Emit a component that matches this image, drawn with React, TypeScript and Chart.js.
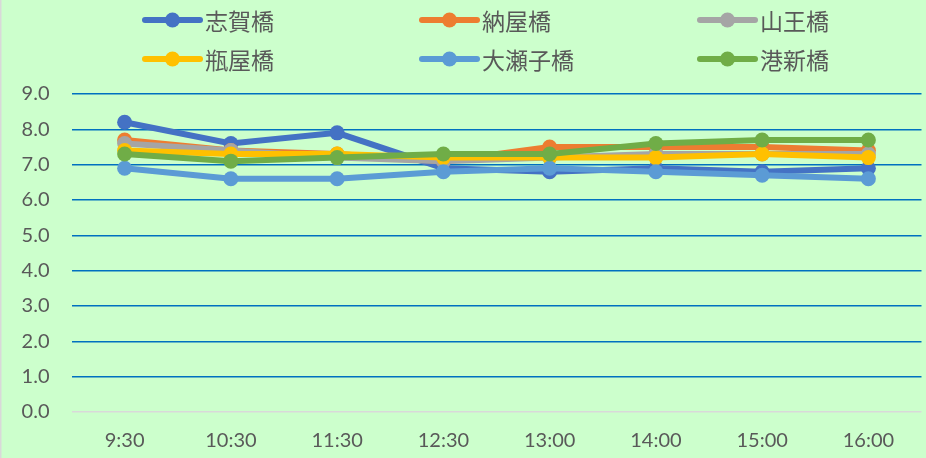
import React, { useEffect, useRef } from "react";
import { Chart, registerables } from "chart.js";

Chart.register(...registerables);

const categories = ["9:30", "10:30", "11:30", "12:30", "13:00", "14:00", "15:00", "16:00"];
const seriesNames = ["志賀橋", "納屋橋", "山王橋", "瓶屋橋", "大瀬子橋", "港新橋"];
const shigaValues = [8.2, 7.6, 7.9, 6.9, 6.8, 6.9, 6.8, 6.9];
const nayaValues = [7.7, 7.4, 7.3, 7.1, 7.5, 7.5, 7.5, 7.4];
const sannoValues = [7.6, 7.4, 7.2, 7.1, 7.2, 7.3, 7.3, 7.3];
const binyaValues = [7.4, 7.3, 7.3, 7.2, 7.2, 7.2, 7.3, 7.2];
const oosekoValues = [6.9, 6.6, 6.6, 6.8, 6.9, 6.8, 6.7, 6.6];
const minatoValues = [7.3, 7.1, 7.2, 7.3, 7.3, 7.6, 7.7, 7.7];
const seriesColors = ["#4472C4", "#ED7D31", "#A5A5A5", "#FFC000", "#5B9BD5", "#70AD47"];
const yTicks = [0, 1, 2, 3, 4, 5, 6, 7, 8, 9];

const allValues = [shigaValues, nayaValues, sannoValues, binyaValues, oosekoValues, minatoValues];

export default function App() {
  const ref = useRef<HTMLCanvasElement | null>(null);

  useEffect(() => {
    if (!ref.current) return;
    const bgPlugin = {
      id: "bg",
      beforeDraw(chart: any) {
        const ctx = chart.ctx;
        ctx.save();
        ctx.fillStyle = "#CCFFCC";
        ctx.fillRect(0, 0, chart.width, chart.height);
        ctx.fillStyle = "#D9D9D9";
        ctx.fillRect(0, 0, 1.5, chart.height);
        ctx.restore();
      },
      afterDraw(chart: any) {
        const ctx = chart.ctx;
        ctx.save();
        const colX = [145, 422, 700];
        const rowY = [20, 59];
        seriesNames.forEach((name, i) => {
          const x = colX[i % 3];
          const y = rowY[Math.floor(i / 3)];
          ctx.strokeStyle = seriesColors[i];
          ctx.lineWidth = 6;
          ctx.lineCap = "round";
          ctx.beginPath();
          ctx.moveTo(x, y);
          ctx.lineTo(x + 55, y);
          ctx.stroke();
          ctx.fillStyle = seriesColors[i];
          ctx.beginPath();
          ctx.arc(x + 27.5, y, 7.5, 0, Math.PI * 2);
          ctx.fill();
          ctx.fillStyle = "#595959";
          ctx.font = '23px "Noto Sans CJK JP"';
          ctx.textBaseline = "middle";
          ctx.textAlign = "left";
          ctx.fillText(name, x + 60, y + 1);
        });
        ctx.restore();
      },
    };

    const chart = new Chart(ref.current, {
      type: "line",
      data: {
        labels: categories,
        datasets: seriesNames.map((name, i) => ({
          label: name,
          data: allValues[i],
          borderColor: seriesColors[i],
          backgroundColor: seriesColors[i],
          borderWidth: 6,
          pointRadius: 7.5,
          pointBorderWidth: 0,
          pointBackgroundColor: seriesColors[i],
          tension: 0,
          order: seriesNames.length - 1 - i,
        })),
      },
      options: {
        animation: false,
        responsive: false,
        maintainAspectRatio: false,
        layout: { padding: { top: 94, left: 0, right: 0, bottom: 0 } },
        plugins: { legend: { display: false }, tooltip: { enabled: false } },
        scales: {
          x: {
            offset: true,
            grid: { display: false, drawTicks: false, offset: true },
            border: { display: false },
            ticks: {
              color: "#595959",
              font: { family: "Lato", size: 20 },
              padding: 17,
              maxRotation: 0,
            },
            afterFit(scale: any) {
              scale.height = 46;
            },
          },
          y: {
            min: 0,
            max: 9,
            afterBuildTicks(scale: any) {
              scale.ticks = yTicks.map((v) => ({ value: v }));
            },
            grid: {
              drawTicks: false,
              lineWidth: 1.5,
              color: (c: any) => (c.tick && c.tick.value === 0 ? "#D9D9D9" : "#0070C0"),
            },
            border: { display: false },
            ticks: {
              color: "#595959",
              font: { family: "Lato", size: 20 },
              padding: 22,
              callback: (v: any) => Number(v).toFixed(1),
            },
            afterFit(scale: any) {
              scale.width = 71.5;
            },
          },
        },
      },
      plugins: [bgPlugin],
    });
    return () => chart.destroy();
  }, []);

  return (
    <div style={{ position: "fixed", left: 0, top: 0, width: 926, height: 458, overflow: "hidden", background: "#CCFFCC" }}>
      <canvas ref={ref} width={929} height={458} style={{ display: "block", width: 929, height: 458 }} />
    </div>
  );
}
